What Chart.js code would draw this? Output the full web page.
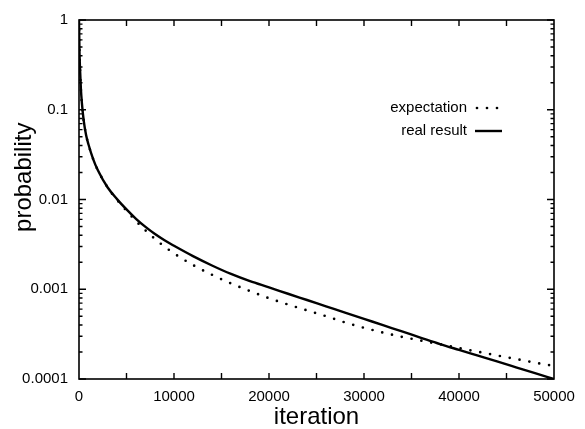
<!DOCTYPE html>
<html>
<head>
<meta charset="utf-8">
<script src="https://cdn.jsdelivr.net/npm/chart.js@4"></script>
<style>
  html, body { margin: 0; padding: 0; background: #fff; }
  canvas { display: block; }
</style>
</head>
<body>
<canvas id="c" width="585" height="429"></canvas>
<script>
// ---- data ----
const iterations = [0, 50, 100, 200, 300, 500, 750, 1000, 1500, 2000, 3000, 4000, 5000, 6000, 7000, 8000, 9000, 10000,
  12000, 14000, 16000, 18000, 20000, 22000, 24000, 26000, 28000, 30000, 32000, 34000, 36000, 38000, 40000,
  42000, 44000, 46000, 48000, 50000];
const expectation = [1, 0.45, 0.3, 0.17, 0.12, 0.075, 0.052, 0.041, 0.028, 0.021, 0.0137, 0.0099, 0.0075, 0.00575, 0.00452,
  0.00363, 0.00299, 0.00251, 0.00186, 0.00145, 0.00116, 0.000955, 0.000794, 0.000676, 0.000581, 0.000501, 0.000427, 0.000372,
  0.000329, 0.000295, 0.000268, 0.000244, 0.000221, 0.000201, 0.000183, 0.000167, 0.000152, 0.00014];
const realResult = [1, 0.45, 0.3, 0.17, 0.12, 0.075, 0.052, 0.041, 0.028, 0.021, 0.0137, 0.0101, 0.00776, 0.0061, 0.00495,
  0.00412, 0.00351, 0.00305, 0.00234, 0.00184, 0.00148, 0.00123, 0.00105, 0.000891, 0.000759, 0.000646, 0.00055, 0.000468,
  0.000398, 0.000339, 0.000288, 0.000245, 0.000211, 0.000182, 0.000157, 0.000135, 0.000116, 0.0001];
const seriesNames = ['expectation', 'real result'];
const xTickValues = [0, 10000, 20000, 30000, 40000, 50000];
const xMinorTickValues = [5000, 10000, 15000, 20000, 25000, 30000, 35000, 40000, 45000];
const yTickValues = [1, 0.1, 0.01, 0.001, 0.0001];
const yTickLabels = ['1', '0.1', '0.01', '0.001', '0.0001'];
const xTitle = 'iteration';
const yTitle = 'probability';

const FONT = '"Liberation Sans", Arial, Helvetica, sans-serif';

const framePlugin = {
  id: 'frame',
  afterDraw(chart) {
    const { ctx, chartArea: a, scales: { x, y } } = chart;
    ctx.save();
    ctx.strokeStyle = '#000';
    ctx.lineWidth = 1.6;
    ctx.strokeRect(a.left, a.top, a.right - a.left, a.bottom - a.top);
    ctx.lineWidth = 1.4;
    ctx.beginPath();
    for (const v of xMinorTickValues) {
      const px = x.getPixelForValue(v);
      ctx.moveTo(px, a.bottom); ctx.lineTo(px, a.bottom - 6);
      ctx.moveTo(px, a.top); ctx.lineTo(px, a.top + 6);
    }
    for (const d of yTickValues) {
      for (let m = 1; m <= 9; m++) {
        const v = d * m;
        if (v > 1.0000001) continue;
        const py = y.getPixelForValue(v);
        const len = m === 1 ? 7 : 3.5;
        ctx.moveTo(a.left, py); ctx.lineTo(a.left + len, py);
        ctx.moveTo(a.right, py); ctx.lineTo(a.right - len, py);
      }
    }
    ctx.stroke();

    // y axis title
    ctx.fillStyle = '#000';
    ctx.font = '24px ' + FONT;
    ctx.textAlign = 'center';
    ctx.textBaseline = 'middle';
    ctx.translate(24, a.top + (a.bottom - a.top) * 0.438);
    ctx.rotate(-Math.PI / 2);
    ctx.fillText(yTitle, 0, 0);
    ctx.restore();

    // legend
    ctx.save();
    ctx.font = '15px ' + FONT;
    ctx.fillStyle = '#000';
    ctx.textAlign = 'right';
    ctx.textBaseline = 'middle';
    const tx = a.right - 87, sx0 = a.right - 79, sx1 = a.right - 52;
    const rows = [a.top + 88, a.top + 111];
    chart.data.datasets.forEach((ds, i) => {
      const ry = rows[i];
      ctx.fillText(ds.label, tx, ry);
      ctx.beginPath();
      ctx.strokeStyle = ds.borderColor;
      ctx.lineWidth = ds.borderWidth;
      ctx.lineCap = ds.borderCapStyle || 'butt';
      ctx.setLineDash(ds.borderDash || []);
      ctx.moveTo(sx0 + (ds.borderDash ? 2 : 0), ry);
      ctx.lineTo(sx1, ry);
      ctx.stroke();
    });
    ctx.restore();
  }
};

const toPoints = (vals) => iterations.map((it, i) => ({ x: it, y: vals[i] }));

new Chart(document.getElementById('c'), {
  type: 'line',
  data: {
    datasets: [
      {
        label: seriesNames[0],
        data: toPoints(expectation),
        borderColor: '#000',
        borderWidth: 2.7,
        borderDash: [0, 10],
        borderCapStyle: 'round',
        pointRadius: 0,
        fill: false,
        cubicInterpolationMode: 'monotone'
      },
      {
        label: seriesNames[1],
        data: toPoints(realResult),
        borderColor: '#000',
        borderWidth: 2.4,
        pointRadius: 0,
        fill: false,
        cubicInterpolationMode: 'monotone'
      }
    ]
  },
  options: {
    responsive: false,
    animation: false,
    events: [],
    layout: { padding: { left: 0, top: 16, right: 31, bottom: 0 } },
    plugins: { legend: { display: false }, tooltip: { enabled: false } },
    scales: {
      x: {
        type: 'linear',
        min: 0,
        max: 50000,
        afterFit: (s) => { s.height = 50; },
        afterBuildTicks: (s) => { s.ticks = xTickValues.map(v => ({ value: v })); },
        grid: { drawOnChartArea: false, drawTicks: false },
        border: { display: false },
        ticks: {
          padding: 9,
          color: '#000',
          font: { family: FONT, size: 15 },
          maxRotation: 0,
          autoSkip: false,
          callback: (v) => String(v)
        },
        title: {
          display: true,
          text: xTitle,
          color: '#000',
          font: { family: FONT, size: 24, lineHeight: 1 },
          padding: { top: 0, bottom: 0 }
        }
      },
      y: {
        type: 'logarithmic',
        min: 0.0001,
        max: 1,
        afterFit: (s) => { s.width = 79; },
        afterBuildTicks: (s) => { s.ticks = yTickValues.map(v => ({ value: v })); },
        grid: { drawOnChartArea: false, drawTicks: false },
        border: { display: false },
        ticks: {
          padding: 11,
          color: '#000',
          font: { family: FONT, size: 15 },
          autoSkip: false,
          callback: (v) => {
            const i = yTickValues.findIndex(t => Math.abs(t - v) / t < 1e-6);
            return i >= 0 ? yTickLabels[i] : '';
          }
        }
      }
    }
  },
  plugins: [framePlugin]
});
</script>
</body>
</html>
